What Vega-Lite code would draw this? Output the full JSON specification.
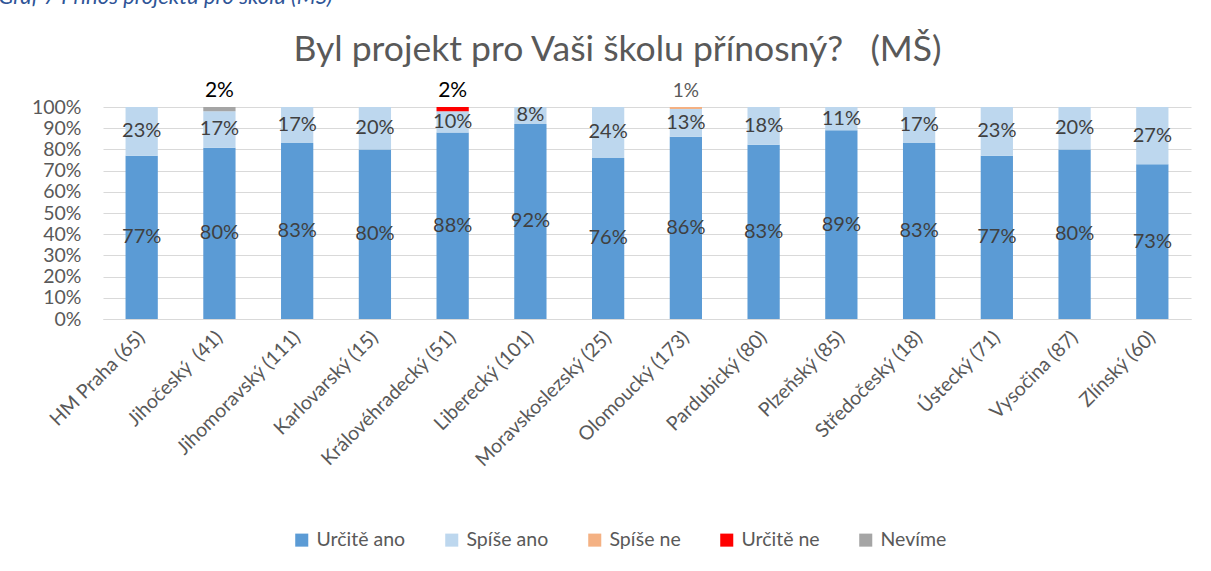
{
  "$schema": "https://vega.github.io/schema/vega-lite/v6.json",
  "autosize": "none",
  "width": 1088,
  "height": 212,
  "padding": {"left": 103, "top": 107, "right": 20, "bottom": 252},
  "background": "white",
  "config": {
    "font": "Lato",
    "view": {"stroke": null},
    "axis": {"labelFont": "Lato", "titleFont": "Lato"},
    "legend": {"labelFont": "Lato"}
  },
  "data": {
    "values": [
      {"region": "HM Praha (65)", "cat": "Určitě ano", "value": 77},
      {"region": "HM Praha (65)", "cat": "Spíše ano", "value": 23},
      {"region": "Jihočeský\u00a0 (41)", "cat": "Určitě ano", "value": 80},
      {"region": "Jihočeský\u00a0 (41)", "cat": "Spíše ano", "value": 17},
      {"region": "Jihočeský\u00a0 (41)", "cat": "Nevíme", "value": 2},
      {"region": "Jihomoravský (111)", "cat": "Určitě ano", "value": 83},
      {"region": "Jihomoravský (111)", "cat": "Spíše ano", "value": 17},
      {"region": "Karlovarský (15)", "cat": "Určitě ano", "value": 80},
      {"region": "Karlovarský (15)", "cat": "Spíše ano", "value": 20},
      {"region": "Královéhradecký (51)", "cat": "Určitě ano", "value": 88},
      {"region": "Královéhradecký (51)", "cat": "Spíše ano", "value": 10},
      {"region": "Královéhradecký (51)", "cat": "Určitě ne", "value": 2},
      {"region": "Liberecký (101)", "cat": "Určitě ano", "value": 92},
      {"region": "Liberecký (101)", "cat": "Spíše ano", "value": 8},
      {"region": "Moravskoslezský (25)", "cat": "Určitě ano", "value": 76},
      {"region": "Moravskoslezský (25)", "cat": "Spíše ano", "value": 24},
      {"region": "Olomoucký (173)", "cat": "Určitě ano", "value": 86},
      {"region": "Olomoucký (173)", "cat": "Spíše ano", "value": 13},
      {"region": "Olomoucký (173)", "cat": "Spíše ne", "value": 1},
      {"region": "Pardubický (80)", "cat": "Určitě ano", "value": 83},
      {"region": "Pardubický (80)", "cat": "Spíše ano", "value": 18},
      {"region": "Plzeňský (85)", "cat": "Určitě ano", "value": 89},
      {"region": "Plzeňský (85)", "cat": "Spíše ano", "value": 11},
      {"region": "Středočeský (18)", "cat": "Určitě ano", "value": 83},
      {"region": "Středočeský (18)", "cat": "Spíše ano", "value": 17},
      {"region": "Ústecký (71)", "cat": "Určitě ano", "value": 77},
      {"region": "Ústecký (71)", "cat": "Spíše ano", "value": 23},
      {"region": "Vysočina (87)", "cat": "Určitě ano", "value": 80},
      {"region": "Vysočina (87)", "cat": "Spíše ano", "value": 20},
      {"region": "Zlínský (60)", "cat": "Určitě ano", "value": 73},
      {"region": "Zlínský (60)", "cat": "Spíše ano", "value": 27}
    ]
  },
  "transform": [
    {"calculate": "indexof(['Určitě ano','Spíše ano','Spíše ne','Určitě ne','Nevíme'], datum.cat)", "as": "ord"},
    {"stack": "value", "groupby": ["region"], "sort": [{"field": "ord", "order": "ascending"}], "offset": "normalize", "as": ["s0", "s1"]},
    {"calculate": "(datum.s0 + datum.s1) / 2", "as": "mid"},
    {"calculate": "datum.value + '%'", "as": "lbl"}
  ],
  "encoding": {
    "x": {
      "field": "region",
      "type": "nominal",
      "sort": null,
      "scale": {"paddingInner": 0.585, "paddingOuter": 0.29},
      "axis": {
        "labelAngle": -45,
        "labelAlign": "right",
        "labelBaseline": "middle",
        "labelFontSize": 19.5,
        "labelColor": "#595959",
        "labelPadding": 15,
        "ticks": false,
        "domainColor": "#D9D9D9",
        "domainWidth": 1,
        "labelLimit": 400,
        "title": "Graf 7 Přínos projektu pro školu (MŠ)",
        "titleAngle": 0,
        "titleX": -105,
        "titleY": -316,
        "titleAlign": "left",
        "titleBaseline": "alphabetic",
        "titleFontSize": 22,
        "titleFontStyle": "italic",
        "titleFontWeight": "normal",
        "titleColor": "#2F5597"
      }
    }
  },
  "layer": [
    {
      "mark": {"type": "bar"},
      "encoding": {
        "y": {
          "field": "s0",
          "type": "quantitative",
          "scale": {"domain": [0, 1]},
          "axis": {
            "format": ".0%",
            "values": [0, 0.1, 0.2, 0.3, 0.4, 0.5, 0.6, 0.7, 0.8, 0.9, 1],
            "labelOverlap": false,
            "labelFontSize": 19.5,
            "labelColor": "#595959",
            "labelPadding": 22,
            "ticks": false,
            "domain": false,
            "gridColor": "#D9D9D9",
            "gridWidth": 1,
            "title": "Byl projekt pro Vaši školu přínosný?\u00a0\u00a0\u00a0(MŠ)",
            "titleAngle": 0,
            "titleX": 514,
            "titleY": -47,
            "titleAlign": "center",
            "titleBaseline": "alphabetic",
            "titleFontSize": 35.5,
            "titleFontWeight": "normal",
            "titleColor": "#595959"
          }
        },
        "y2": {"field": "s1"},
        "color": {
          "field": "cat",
          "type": "nominal",
          "scale": {
            "domain": ["Určitě ano", "Spíše ano", "Spíše ne", "Určitě ne", "Nevíme"],
            "range": ["#5B9BD5", "#BDD7EE", "#F4B183", "#FF0000", "#A5A5A5"]
          },
          "legend": {
            "title": null,
            "orient": "none",
            "direction": "horizontal",
            "legendX": 189,
            "legendY": 423,
            "symbolType": "square",
            "symbolSize": 170,
            "symbolStrokeWidth": 0,
            "labelFontSize": 19.5,
            "labelColor": "#595959",
            "columnPadding": 36,
            "labelOffset": 5
          }
        }
      }
    },
    {
      "transform": [{"filter": "datum.value >= 5"}],
      "mark": {"type": "text", "fontSize": 20, "color": "#404040", "baseline": "middle"},
      "encoding": {
        "y": {
          "field": "mid",
          "type": "quantitative",
          "axis": {
            "format": ".0%",
            "values": [0, 0.1, 0.2, 0.3, 0.4, 0.5, 0.6, 0.7, 0.8, 0.9, 1],
            "labelOverlap": false,
            "labelFontSize": 19.5,
            "labelColor": "#595959",
            "labelPadding": 22,
            "ticks": false,
            "domain": false,
            "gridColor": "#D9D9D9",
            "gridWidth": 1,
            "title": "Byl projekt pro Vaši školu přínosný?\u00a0\u00a0\u00a0(MŠ)",
            "titleAngle": 0,
            "titleX": 514,
            "titleY": -47,
            "titleAlign": "center",
            "titleBaseline": "alphabetic",
            "titleFontSize": 35.5,
            "titleFontWeight": "normal",
            "titleColor": "#595959"
          }
        },
        "text": {"field": "lbl"}
      }
    },
    {
      "transform": [{"filter": "datum.value < 5"}],
      "mark": {"type": "text", "baseline": "alphabetic", "dy": -10},
      "encoding": {
        "y": {
          "field": "s1",
          "type": "quantitative",
          "axis": {
            "format": ".0%",
            "values": [0, 0.1, 0.2, 0.3, 0.4, 0.5, 0.6, 0.7, 0.8, 0.9, 1],
            "labelOverlap": false,
            "labelFontSize": 19.5,
            "labelColor": "#595959",
            "labelPadding": 22,
            "ticks": false,
            "domain": false,
            "gridColor": "#D9D9D9",
            "gridWidth": 1,
            "title": "Byl projekt pro Vaši školu přínosný?\u00a0\u00a0\u00a0(MŠ)",
            "titleAngle": 0,
            "titleX": 514,
            "titleY": -47,
            "titleAlign": "center",
            "titleBaseline": "alphabetic",
            "titleFontSize": 35.5,
            "titleFontWeight": "normal",
            "titleColor": "#595959"
          }
        },
        "text": {"field": "lbl"},
        "color": {"condition": {"test": "datum.cat === 'Spíše ne'", "value": "#595959"}, "value": "#000000"},
        "size": {"condition": {"test": "datum.cat === 'Spíše ne'", "value": 19}, "value": 21}
      }
    }
  ]
}
